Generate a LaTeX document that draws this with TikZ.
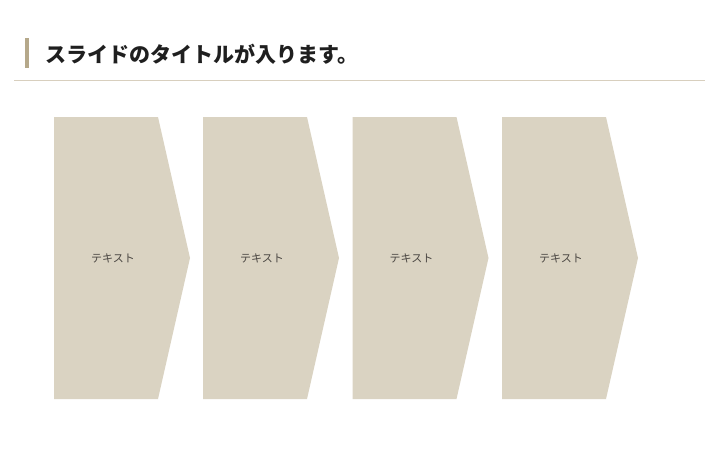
\documentclass[tikz,border=0pt]{standalone}
\usepackage{fontspec}
\setmainfont{Noto Sans CJK JP}
\usepackage{tikz}
\usetikzlibrary{positioning}
\definecolor{etapecolor}{RGB}{218,211,194}
\definecolor{barrecolor}{RGB}{181,168,138}
\definecolor{filetcolor}{RGB}{216,207,190}
\definecolor{textecolor}{RGB}{74,70,66}

\begin{document}
\begin{tikzpicture}[x=1pt, y=-1pt,
    etape/.style={fill=etapecolor},
    etiquette/.style={font=\fontsize{11}{13}\selectfont, text=textecolor, inner sep=0pt}]
    \useasboundingbox (0,0) rectangle (720,450);

    % Titre
    \fill[barrecolor] (25,38) rectangle (29,68);
    \node[anchor=west, inner sep=0pt, font=\fontsize{21}{25}\selectfont\bfseries, text=black!88] (titre) at (45,54) {スライドのタイトルが入ります。};
    \draw[filetcolor, line width=1.2pt] (14,80.7) -- (705,80.7);

    % Etape 1
    \fill[etape] (54,117) -- (158,117) -- (190,258) -- (158,399) -- (54,399) -- cycle;
    \node[etiquette] (texte1) at (113,258.5) {テキスト};

    % Etape 2
    \fill[etape] (203,117) -- (307,117) -- (339,258) -- (307,399) -- (203,399) -- cycle;
    \node[etiquette] (texte2) at (262,258.5) {テキスト};

    % Etape 3
    \fill[etape] (352.5,117) -- (456.5,117) -- (488.5,258) -- (456.5,399) -- (352.5,399) -- cycle;
    \node[etiquette] (texte3) at (411.5,258.5) {テキスト};

    % Etape 4
    \fill[etape] (502,117) -- (606,117) -- (638,258) -- (606,399) -- (502,399) -- cycle;
    \node[etiquette] (texte4) at (561,258.5) {テキスト};
\end{tikzpicture}
\end{document}
